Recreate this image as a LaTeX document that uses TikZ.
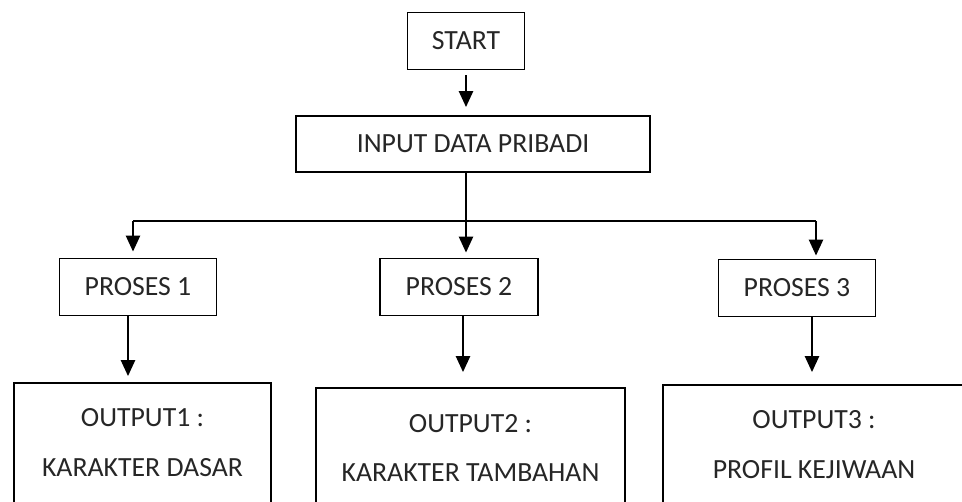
\documentclass[tikz,border=0pt]{standalone}
\usepackage{fontspec}
\setmainfont{Carlito}
\usetikzlibrary{arrows.meta}
\tikzset{
  box/.style={draw, line width=1.1pt, inner sep=0pt, align=center, text=black!85},
  arr/.style={-{Triangle[width=8pt,length=9pt]}, line width=1.1pt},
}
\begin{document}
\begin{tikzpicture}[x=0.02cm, y=-0.02cm, font=\fontsize{15.8}{28.4}\selectfont]
  \useasboundingbox (0,0) rectangle (962,501);
  \clip (0,0) rectangle (962,501);

  % 1. start dan input
  \node[box, minimum width=2.34cm, minimum height=1.14cm] (start) at (466,41) {START};
  \node[box, minimum width=7.08cm, minimum height=1.12cm] (input) at (473,144) {INPUT DATA PRIBADI};
  \draw[arr, shorten <=0.1cm, shorten >=0.16cm] (start.south) -- (input.north -| start.south);

  % 2. percabangan
  \coordinate (b1) at (133,221);
  \coordinate (b2) at (466,221);
  \coordinate (b3) at (816,221);
  \draw[line width=1.1pt] (b2 |- input.south) -- (b2);
  \draw[line width=1.1pt] (b1) -- (b3);

  % 3. proses
  \node[box, minimum width=3.14cm, minimum height=1.14cm] (proses1) at (138,287) {PROSES 1};
  \node[box, minimum width=3.16cm, minimum height=1.14cm] (proses2) at (459,287) {PROSES 2};
  \node[box, minimum width=3.14cm, minimum height=1.14cm] (proses3) at (797,288) {PROSES 3};
  \draw[arr, shorten >=0.12cm] (b1) -- (b1 |- proses1.north);
  \draw[arr, shorten >=0.1cm] (b2) -- (b2 |- proses2.north);
  \draw[arr, shorten >=0.06cm] (b3) -- (b3 |- proses3.north);

  % 4. output
  \node[box, minimum width=5.14cm, minimum height=2.4cm] (output1) at (142.5,443) {OUTPUT1 :\\KARAKTER DASAR};
  \node[box, minimum width=6.18cm, minimum height=2.4cm] (output2) at (470.5,448) {OUTPUT2 :\\KARAKTER TAMBAHAN};
  \node[box, minimum width=6.04cm, minimum height=2.4cm] (output3) at (814,445) {OUTPUT3 :\\PROFIL KEJIWAAN};
  \draw[arr, shorten >=0.12cm] ([xshift=-0.2cm]proses1.south) -- ([xshift=-0.2cm]proses1.south |- output1.north);
  \draw[arr, shorten >=0.3cm] ([xshift=0.08cm]proses2.south) -- ([xshift=0.08cm]proses2.south |- output2.north);
  \draw[arr, shorten >=0.24cm] ([xshift=0.3cm]proses3.south) -- ([xshift=0.3cm]proses3.south |- output3.north);
\end{tikzpicture}
\end{document}
